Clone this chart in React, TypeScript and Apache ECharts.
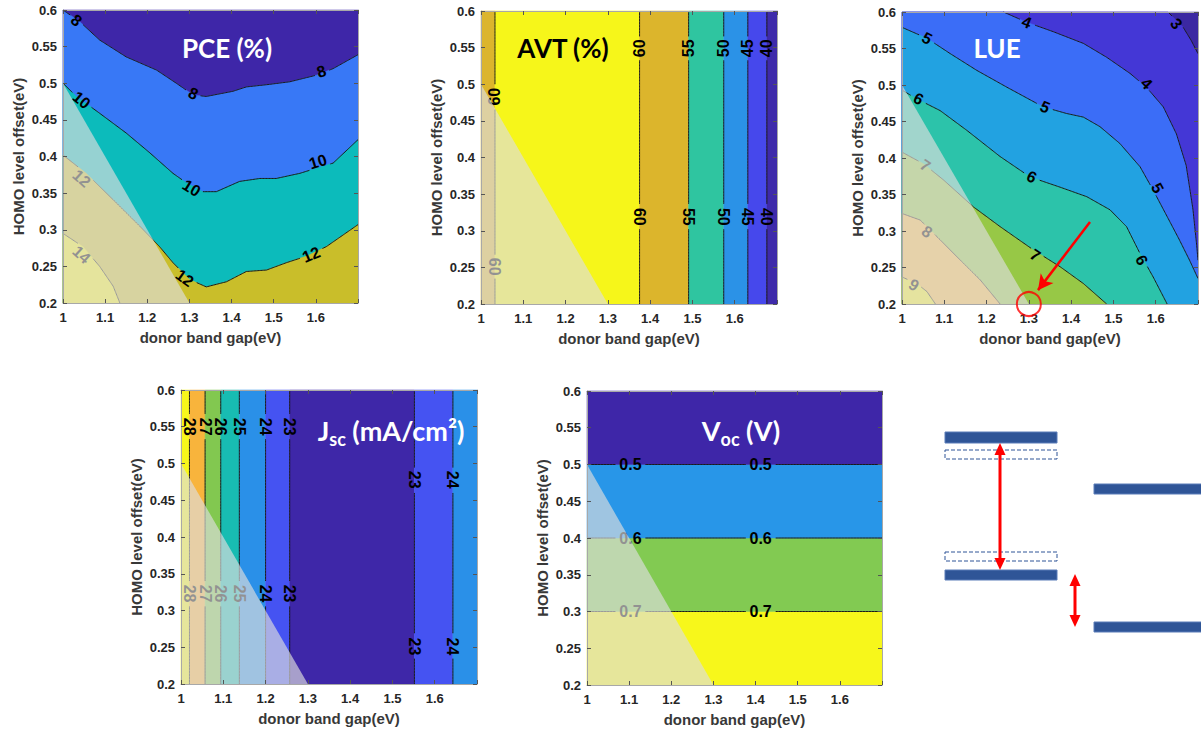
import React, { useEffect, useRef } from "react";
import * as echarts from "echarts";

type Pt = [number, number];

// ---------- shared axes ----------
const X_MIN = 1;
const X_MAX = 1.7;
const Y_MIN = 0.2;
const Y_MAX = 0.6;
const X_STEP = 0.1;
const Y_STEP = 0.05;
const X_NAME = "donor band gap(eV)";
const Y_NAME = "HOMO level offset(eV)";

// region excluded (white veil) in every panel
const excludedRegion: Pt[] = [[1, 0.5], [1.3, 0.2], [1, 0.2]];

// ---------- PCE (%) ----------
const pceLevels = [8, 10, 12, 14];
const pceLine8: Pt[] = [[1.0, 0.6], [1.04, 0.584], [1.087, 0.559], [1.15, 0.536], [1.222, 0.518], [1.269, 0.5], [1.309, 0.484], [1.34, 0.482], [1.403, 0.489], [1.435, 0.495], [1.483, 0.498], [1.538, 0.502], [1.601, 0.511], [1.641, 0.52], [1.7, 0.539]];
const pceLine10: Pt[] = [[1.0, 0.5], [1.032, 0.482], [1.087, 0.459], [1.15, 0.432], [1.206, 0.405], [1.261, 0.377], [1.293, 0.364], [1.332, 0.352], [1.364, 0.352], [1.419, 0.366], [1.467, 0.37], [1.506, 0.37], [1.562, 0.377], [1.601, 0.384], [1.641, 0.391], [1.7, 0.423]];
const pceLine12: Pt[] = [[1.0, 0.402], [1.055, 0.377], [1.119, 0.341], [1.182, 0.305], [1.229, 0.277], [1.261, 0.255], [1.301, 0.232], [1.34, 0.222], [1.388, 0.229], [1.435, 0.243], [1.483, 0.245], [1.53, 0.255], [1.578, 0.264], [1.625, 0.277], [1.7, 0.307]];
const pceLine14: Pt[] = [[1.0, 0.295], [1.047, 0.277], [1.087, 0.25], [1.119, 0.223], [1.135, 0.2]];
const pceLines = [pceLine8, pceLine10, pceLine12, pceLine14];
const pceClosing: Pt[][] = [[[1.7, 0.2], [1, 0.2]], [[1.7, 0.2], [1, 0.2]], [[1.7, 0.2], [1, 0.2]], [[1, 0.2]]];
const pceColors = ["#3E26A8", "#3878F6", "#0CBBBB", "#C9BE2A", "#F4EF22"];
const pceLabels: [number, number, string][] = [
  [1.032, 0.586, "8"], [1.309, 0.486, "8"], [1.613, 0.516, "8"],
  [1.044, 0.477, "10"], [1.305, 0.357, "10"], [1.605, 0.393, "10"],
  [1.044, 0.37, "12"], [1.289, 0.234, "12"], [1.589, 0.266, "12"],
  [1.044, 0.266, "14"],
];

// ---------- AVT (%) ----------
const avtEdges = [1.033, 1.375, 1.491, 1.574, 1.631, 1.676];
const avtColors = ["#DCB52C", "#F6F61A", "#DCB52C", "#2FC5A0", "#2B92E7", "#4648EC", "#3E2AAA"];
const avtLabels: [number, number, string][] = [
  [1.033, 0.483, "60"], [1.033, 0.251, "60"],
  [1.375, 0.549, "60"], [1.491, 0.549, "55"], [1.574, 0.549, "50"], [1.631, 0.549, "45"], [1.676, 0.549, "40"],
  [1.375, 0.319, "60"], [1.491, 0.319, "55"], [1.574, 0.319, "50"], [1.631, 0.319, "45"], [1.676, 0.319, "40"],
];

// ---------- LUE ----------
const lueLevels = [3, 4, 5, 6, 7, 8, 9];
const lueLine3: Pt[] = [[1.629, 0.6], [1.665, 0.579], [1.684, 0.561], [1.7, 0.543]];
const lueLine4: Pt[] = [[1.24, 0.6], [1.295, 0.586], [1.358, 0.573], [1.429, 0.557], [1.484, 0.538], [1.539, 0.516], [1.578, 0.497], [1.618, 0.47], [1.649, 0.433], [1.672, 0.39], [1.688, 0.33], [1.697, 0.28], [1.7, 0.26]];
const lueLine5: Pt[] = [[1.0, 0.579], [1.059, 0.564], [1.114, 0.543], [1.177, 0.52], [1.248, 0.497], [1.334, 0.47], [1.389, 0.461], [1.429, 0.456], [1.468, 0.443], [1.515, 0.42], [1.563, 0.388], [1.594, 0.356], [1.625, 0.322], [1.655, 0.289], [1.68, 0.26], [1.7, 0.235]];
const lueLine6: Pt[] = [[1.0, 0.493], [1.035, 0.481], [1.09, 0.465], [1.153, 0.438], [1.232, 0.402], [1.303, 0.374], [1.374, 0.36], [1.437, 0.347], [1.492, 0.329], [1.531, 0.306], [1.563, 0.269], [1.594, 0.237], [1.627, 0.2]];
const lueLine7: Pt[] = [[1.0, 0.408], [1.051, 0.392], [1.098, 0.37], [1.169, 0.333], [1.232, 0.306], [1.311, 0.274], [1.374, 0.251], [1.429, 0.228], [1.484, 0.2]];
const lueLine8: Pt[] = [[1.0, 0.324], [1.043, 0.315], [1.09, 0.288], [1.138, 0.26], [1.185, 0.233], [1.232, 0.2]];
const lueLine9: Pt[] = [[1.0, 0.237], [1.035, 0.228], [1.059, 0.217], [1.079, 0.2]];
const lueLines = [lueLine3, lueLine4, lueLine5, lueLine6, lueLine7, lueLine8, lueLine9];
const lueClosing: Pt[][] = [
  [[1.7, 0.2], [1, 0.2], [1, 0.6]], [[1.7, 0.2], [1, 0.2], [1, 0.6]], [[1.7, 0.2], [1, 0.2]],
  [[1, 0.2]], [[1, 0.2]], [[1, 0.2]], [[1, 0.2]],
];
const lueColors = ["#3B28A2", "#4437D6", "#3B6DF7", "#22A2E1", "#2CC3AA", "#97C846", "#F7BB47", "#F3EE28"];
const lueLabels: [number, number, string][] = [
  [1.649, 0.584, "3"],
  [1.295, 0.586, "4"], [1.578, 0.502, "4"],
  [1.059, 0.564, "5"], [1.338, 0.47, "5"], [1.604, 0.359, "5"],
  [1.039, 0.481, "6"], [1.307, 0.374, "6"], [1.567, 0.26, "6"],
  [1.055, 0.39, "7"], [1.315, 0.267, "7"],
  [1.059, 0.299, "8"],
  [1.028, 0.226, "9"],
];
const lueHighlight: Pt = [1.3, 0.2];
const lueArrowFrom: Pt = [1.4446, 0.3123];
const lueArrowTo: Pt = [1.3216, 0.219];

// ---------- Jsc ----------
const jscEdges = [1.02, 1.057, 1.094, 1.138, 1.2, 1.257, 1.552, 1.643];
const jscColors = ["#F7F71B", "#F8B43C", "#82C850", "#18BCB2", "#2A90E8", "#4553F2", "#3E27A8", "#4553F2", "#2A90E8"];
const jscLabels: [number, number, string][] = [
  [1.02, 0.55, "28"], [1.057, 0.55, "27"], [1.094, 0.55, "26"], [1.138, 0.55, "25"], [1.2, 0.55, "24"], [1.257, 0.55, "23"],
  [1.02, 0.323, "28"], [1.057, 0.323, "27"], [1.094, 0.323, "26"], [1.138, 0.323, "25"], [1.2, 0.323, "24"], [1.257, 0.323, "23"],
  [1.552, 0.478, "23"], [1.552, 0.251, "23"], [1.643, 0.478, "24"], [1.643, 0.251, "24"],
];

// ---------- Voc ----------
const vocEdges = [0.3, 0.4, 0.5];
const vocColors = ["#F7F71B", "#82CA52", "#2896E8", "#3E26A8"];
const vocLabels: [number, number, string][] = [
  [1.103, 0.5, "0.5"], [1.412, 0.5, "0.5"],
  [1.103, 0.4, "0.6"], [1.412, 0.4, "0.6"],
  [1.103, 0.3, "0.7"], [1.412, 0.3, "0.7"],
];

// ---------- helpers ----------
const FONT = '"Liberation Sans", Arial, sans-serif';
const TITLE_FONT = 'Lato, "Open Sans", sans-serif';
const LABEL_SIZE = 16;

type Poly = { pts: Pt[]; color: string };
type Label = { x: number; y: number; text: string; line?: Pt[]; rot?: number };
type Panel = {
  grid: { left: number; top: number; width: number; height: number };
  fills: Poly[];
  lines: Pt[][];
  labels: Label[];
};

const fullRect: Pt[] = [[X_MIN, Y_MIN], [X_MAX, Y_MIN], [X_MAX, Y_MAX], [X_MIN, Y_MAX]];

function contourPanel(lines: Pt[][], closing: Pt[][], colors: string[], levels: number[], labels: [number, number, string][], grid: Panel["grid"]): Panel {
  const fills: Poly[] = [{ pts: fullRect, color: colors[0] }];
  lines.forEach((l, i) => fills.push({ pts: [...l, ...closing[i]], color: colors[i + 1] }));
  return {
    grid,
    fills,
    lines,
    labels: labels.map(([x, y, text]) => ({ x, y, text, line: lines[levels.indexOf(Number(text))] })),
  };
}

function vBandPanel(edges: number[], colors: string[], labels: [number, number, string][], rotFn: (y: number) => number, grid: Panel["grid"]): Panel {
  const b = [X_MIN, ...edges, X_MAX];
  const fills: Poly[] = colors.map((c, j) => ({ pts: [[b[j], Y_MIN], [b[j + 1], Y_MIN], [b[j + 1], Y_MAX], [b[j], Y_MAX]] as Pt[], color: c }));
  const lines: Pt[][] = edges.map((e) => [[e, Y_MIN], [e, Y_MAX]]);
  return { grid, fills, lines, labels: labels.map(([x, y, text]) => ({ x, y, text, rot: rotFn(y), line: lines[edges.indexOf(x)] })) };
}

function hBandPanel(edges: number[], colors: string[], labels: [number, number, string][], grid: Panel["grid"]): Panel {
  const b = [Y_MIN, ...edges, Y_MAX];
  const fills: Poly[] = colors.map((c, j) => ({ pts: [[X_MIN, b[j]], [X_MAX, b[j]], [X_MAX, b[j + 1]], [X_MIN, b[j + 1]]] as Pt[], color: c }));
  const lines: Pt[][] = edges.map((e) => [[X_MIN, e], [X_MAX, e]]);
  return { grid, fills, lines, labels: labels.map(([x, y, text]) => ({ x, y, text, rot: 0, line: lines[edges.indexOf(y)] })) };
}

function tangentRotation(api: any, line: Pt[], x: number, y: number): number {
  const p = api.coord([x, y]);
  const px = line.map((q) => api.coord(q));
  let best = 0;
  let bd = Infinity;
  px.forEach((q: number[], i: number) => {
    const d = (q[0] - p[0]) ** 2 + (q[1] - p[1]) ** 2;
    if (d < bd) { bd = d; best = i; }
  });
  const a = px[Math.max(0, best - 1)];
  const b = px[Math.min(px.length - 1, best + 1)];
  let ang = Math.atan2(-(b[1] - a[1]), b[0] - a[0]);
  if (ang > Math.PI / 2) ang -= Math.PI;
  if (ang <= -Math.PI / 2) ang += Math.PI;
  return ang;
}

// half of the label's width along the line, plus a small margin
function labelGap(text: string): number {
  let w = 0;
  for (const ch of text) w += ch === "." ? 0.278 : 0.556;
  return (w * LABEL_SIZE) / 2 + 3;
}

const App: React.FC = () => {
  const ref = useRef<HTMLDivElement>(null);

  useEffect(() => {
    document.body.style.margin = "0";
    if (!ref.current) return;
    const chart = echarts.init(ref.current, undefined, { renderer: "svg" });

    const panels: Panel[] = [
      contourPanel(pceLines, pceClosing, pceColors, pceLevels, pceLabels, { left: 63, top: 10, width: 295, height: 293 }),
      vBandPanel(avtEdges, avtColors, avtLabels, (y) => (y > 0.4 ? Math.PI / 2 : -Math.PI / 2), { left: 481, top: 11, width: 296, height: 293 }),
      contourPanel(lueLines, lueClosing, lueColors, lueLevels, lueLabels, { left: 902, top: 12, width: 296, height: 292 }),
      vBandPanel(jscEdges, jscColors, jscLabels, () => -Math.PI / 2, { left: 181, top: 390, width: 296, height: 294 }),
      hBandPanel(vocEdges, vocColors, vocLabels, { left: 587, top: 391, width: 295, height: 294 }),
    ];

    const grids: any[] = [];
    const xAxes: any[] = [];
    const yAxes: any[] = [];
    const series: any[] = [];

    const tickStyle = { show: true, inside: true, length: 4, lineStyle: { color: "#555", width: 1 } };
    const lineStyle = { show: true, lineStyle: { color: "#A8A8A8", width: 1 } };

    panels.forEach((pn, i) => {
      grids.push({ ...pn.grid, show: false });
      xAxes.push({
        type: "value", gridIndex: i, min: X_MIN, max: X_MAX, interval: X_STEP, position: "bottom", z: 10,
        axisLine: lineStyle, axisTick: tickStyle, splitLine: { show: false },
        axisLabel: {
          margin: 8, fontSize: 13, fontWeight: "bold", color: "#262626", fontFamily: FONT,
          formatter: (v: number) => (v > X_MAX - X_STEP / 2 ? "" : String(Math.round(v * 10) / 10)),
        },
        name: X_NAME, nameLocation: "middle", nameGap: 27,
        nameTextStyle: { fontSize: 15, fontWeight: "bold", color: "#383838", fontFamily: FONT },
      });
      xAxes.push({
        type: "value", gridIndex: i, min: X_MIN, max: X_MAX, interval: X_STEP, position: "top", z: 10,
        axisLine: lineStyle, axisTick: tickStyle, axisLabel: { show: false }, splitLine: { show: false },
      });
      yAxes.push({
        type: "value", gridIndex: i, min: Y_MIN, max: Y_MAX, interval: Y_STEP, position: "left", z: 10,
        axisLine: lineStyle, axisTick: tickStyle, splitLine: { show: false },
        axisLabel: {
          margin: 6, fontSize: 13, fontWeight: "bold", color: "#262626", fontFamily: FONT,
          formatter: (v: number) => String(Math.round(v * 100) / 100),
        },
        name: Y_NAME, nameLocation: "middle", nameGap: 37, nameRotate: 90,
        nameTextStyle: { fontSize: 15, fontWeight: "bold", color: "#383838", fontFamily: FONT },
      });
      yAxes.push({
        type: "value", gridIndex: i, min: Y_MIN, max: Y_MAX, interval: Y_STEP, position: "right", z: 10,
        axisLine: lineStyle, axisTick: tickStyle, axisLabel: { show: false }, splitLine: { show: false },
      });

      const xi = 2 * i;
      const yi = 2 * i;

      series.push({
        type: "custom", xAxisIndex: xi, yAxisIndex: yi, z: 1, silent: true,
        data: pn.fills.map((f) => f.pts[0]),
        renderItem: (params: any, api: any) => {
          const f = pn.fills[params.dataIndex];
          return { type: "polygon", shape: { points: f.pts.map((p) => api.coord(p)) }, style: { fill: f.color, stroke: f.color, lineWidth: 0.5 } };
        },
      });
      series.push({
        type: "custom", xAxisIndex: xi, yAxisIndex: yi, z: 2, silent: true,
        data: pn.lines.map((l) => l[0]),
        renderItem: (params: any, api: any) => {
          const l = pn.lines[params.dataIndex];
          const px = l.map((p) => api.coord(p));
          const gaps = pn.labels
            .filter((lb) => lb.line === l)
            .map((lb) => ({ c: api.coord([lb.x, lb.y]), r: labelGap(lb.text) }));
          const segs: number[][][] = [];
          let cur: number[][] = [];
          for (let k = 0; k < px.length - 1; k++) {
            const a = px[k];
            const b = px[k + 1];
            const len = Math.hypot(b[0] - a[0], b[1] - a[1]);
            const n = Math.max(1, Math.ceil(len / 1.5));
            for (let s = k === 0 ? 0 : 1; s <= n; s++) {
              const t = s / n;
              const q = [a[0] + (b[0] - a[0]) * t, a[1] + (b[1] - a[1]) * t];
              const hidden = gaps.some((g) => Math.hypot(q[0] - g.c[0], q[1] - g.c[1]) < g.r);
              if (hidden) {
                if (cur.length > 1) segs.push(cur);
                cur = [];
              } else cur.push(q);
            }
          }
          if (cur.length > 1) segs.push(cur);
          return {
            type: "group",
            children: segs.map((sg) => ({
              type: "polyline", shape: { points: sg }, style: { stroke: "#1a1a1a", lineWidth: 1, fill: null },
            })),
          };
        },
      });
      series.push({
        type: "custom", xAxisIndex: xi, yAxisIndex: yi, z: 3, silent: true,
        data: pn.labels.map((l) => [l.x, l.y]),
        renderItem: (params: any, api: any) => {
          const lab = pn.labels[params.dataIndex];
          const p = api.coord([lab.x, lab.y]);
          const rot = lab.rot !== undefined ? lab.rot : lab.line ? tangentRotation(api, lab.line, lab.x, lab.y) : 0;
          return {
            type: "text", x: p[0], y: p[1], rotation: rot,
            style: {
              text: lab.text, fill: "#000", font: `bold ${LABEL_SIZE}px ${FONT}`,
              align: "center", verticalAlign: "middle", textAlign: "center", textVerticalAlign: "middle",
            },
          };
        },
      });
      series.push({
        type: "custom", xAxisIndex: xi, yAxisIndex: yi, z: 4, silent: true,
        data: [excludedRegion[0]],
        renderItem: (params: any, api: any) => ({
          type: "polygon", shape: { points: excludedRegion.map((p) => api.coord(p)) },
          style: { fill: "rgba(222,222,222,0.66)" },
        }),
      });
    });

    // LUE highlight circle + arrow
    series.push({
      type: "scatter", xAxisIndex: 4, yAxisIndex: 4, z: 20, clip: false, silent: true,
      symbol: "circle", symbolSize: 24,
      itemStyle: { color: "rgba(0,0,0,0)", borderColor: "#FF0000", borderWidth: 2 },
      data: [lueHighlight],
      markLine: {
        silent: true, symbol: ["none", "arrow"], symbolSize: [12, 15], animation: false,
        label: { show: false },
        lineStyle: { color: "#FF0000", width: 2.5, type: "solid" },
        data: [[{ coord: lueArrowFrom }, { coord: lueArrowTo }]],
      },
    });

    const white = "#FFFFFF";
    const titleStyle = (text: string, fill: string) => ({
      text, fill, font: `bold 26px ${TITLE_FONT}`,
      align: "center", verticalAlign: "middle", textAlign: "center", textVerticalAlign: "middle",
    });
    const subRich = (fill: string) => ({
      a: { fill, color: fill, fontSize: 27, fontWeight: "bold", fontFamily: TITLE_FONT, lineHeight: 34 },
      b: { fill, color: fill, fontSize: 18, fontWeight: "bold", fontFamily: TITLE_FONT, lineHeight: 20, padding: [18, 0, 0, 0] },
    });

    const barFill = "#2F5597";
    const barStroke = "#5A7DB8";
    const red = "#FF0000";

    const graphic: any[] = [
      { type: "text", x: 227, y: 48, z: 100, style: titleStyle("PCE (%)", white) },
      { type: "text", x: 563, y: 48, z: 100, style: titleStyle("AVT (%)", "#000") },
      { type: "text", x: 997, y: 48, z: 100, style: titleStyle("LUE", white) },
      {
        type: "text", x: 391, y: 430, z: 100,
        style: { ...titleStyle("{a|J}{b|sc}{a| (mA/cm²)}", white), rich: subRich(white) },
      },
      {
        type: "text", x: 741, y: 430, z: 100,
        style: { ...titleStyle("{a|V}{b|oc}{a| (V)}", white), rich: subRich(white) },
      },
      // energy level diagram
      { type: "rect", z: 100, shape: { x: 945, y: 432, width: 112, height: 11 }, style: { fill: barFill, stroke: barStroke, lineWidth: 1 } },
      { type: "rect", z: 100, shape: { x: 945, y: 450, width: 112, height: 9 }, style: { fill: "#fff", stroke: barFill, lineWidth: 1, lineDash: [4, 2] } },
      { type: "rect", z: 100, shape: { x: 945, y: 552, width: 112, height: 9 }, style: { fill: "#fff", stroke: barFill, lineWidth: 1, lineDash: [4, 2] } },
      { type: "rect", z: 100, shape: { x: 945, y: 570, width: 112, height: 10 }, style: { fill: barFill, stroke: barStroke, lineWidth: 1 } },
      { type: "rect", z: 100, shape: { x: 1094, y: 484, width: 110, height: 10 }, style: { fill: barFill, stroke: barStroke, lineWidth: 1 } },
      { type: "rect", z: 100, shape: { x: 1094, y: 622, width: 110, height: 10 }, style: { fill: barFill, stroke: barStroke, lineWidth: 1 } },
      { type: "line", z: 101, shape: { x1: 1000, y1: 452, x2: 1000, y2: 561 }, style: { stroke: red, lineWidth: 3 } },
      { type: "polygon", z: 101, shape: { points: [[1000, 443], [994.5, 455], [1005.5, 455]] }, style: { fill: red } },
      { type: "polygon", z: 101, shape: { points: [[1000, 570], [994.5, 558], [1005.5, 558]] }, style: { fill: red } },
      { type: "line", z: 101, shape: { x1: 1075, y1: 583, x2: 1075, y2: 618 }, style: { stroke: red, lineWidth: 3 } },
      { type: "polygon", z: 101, shape: { points: [[1075, 574], [1069.5, 586], [1080.5, 586]] }, style: { fill: red } },
      { type: "polygon", z: 101, shape: { points: [[1075, 627], [1069.5, 615], [1080.5, 615]] }, style: { fill: red } },
    ];

    chart.setOption({
      animation: false,
      backgroundColor: "#ffffff",
      grid: grids,
      xAxis: xAxes,
      yAxis: yAxes,
      series,
      graphic,
    });

    return () => chart.dispose();
  }, []);

  return <div ref={ref} style={{ width: 1201, height: 733 }} />;
};

export default App;
